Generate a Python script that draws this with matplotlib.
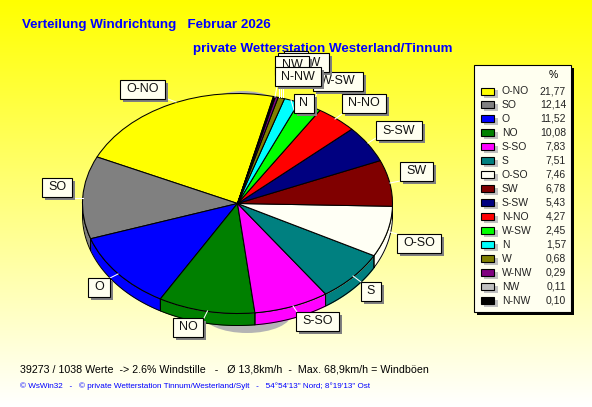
import numpy as np
import matplotlib
matplotlib.use("Agg")
import matplotlib.pyplot as plt
from matplotlib.patches import Rectangle, Ellipse

categories = ["O-NO","SO","O","NO","S-SO","S","O-SO","SW","S-SW","N-NO","W-SW","N","W","W-NW","NW","N-NW"]
values = [21.77,12.14,11.52,10.08,7.83,7.51,7.46,6.78,5.43,4.27,2.45,1.57,0.68,0.29,0.11,0.10]
value_labels = ["21,77","12,14","11,52","10,08","7,83","7,51","7,46","6,78","5,43","4,27","2,45","1,57","0,68","0,29","0,11","0,10"]
colors = ["#ffff00","#808080","#0000ff","#008000","#ff00ff","#008080","#fffff5","#800000","#000080","#ff0000","#00ff00","#00ffff","#808000","#800080","#c0c0c0","#000000"]

W, H = 592, 407
CX, CY, RX, RY, DEPTH = 237.5, 203.5, 155.0, 110.0, 12.0
START = 76.6
FONT = "Liberation Sans"

fig = plt.figure(figsize=(W/100, H/100), dpi=100)

# background gradient
bg = fig.add_axes([0, 0, 1, 1], zorder=0)
grad = np.linspace(0, 1, 256).reshape(-1, 1)
rgb = np.dstack([np.ones_like(grad), np.ones_like(grad), grad])
bg.imshow(rgb, aspect="auto", extent=(0, W, H, 0), interpolation="bilinear")
bg.set_xlim(0, W); bg.set_ylim(H, 0); bg.axis("off")
bg.add_patch(Ellipse((247, 313), 90, 40, fc="#b4b4b4", ec="none"))
bg.add_patch(Ellipse((243, 111), 80, 40, fc="#b4b4b4", ec="none"))

# pie in unit coordinates, stretched to an ellipse
ax = fig.add_axes([0, 0, 1, 1], zorder=1)
ax.patch.set_alpha(0)
wedges, _ = ax.pie(values, colors=colors, startangle=START, counterclock=True, radius=1,
                   wedgeprops=dict(edgecolor="black", linewidth=0.75))
ax.set_aspect("auto")
ax.set_xlim(-CX/RX, (W-CX)/RX)
ax.set_ylim(-(H-CY)/RY, CY/RY)
d = DEPTH/RY
# side wall, only on the front half
a = START
for v, c, w in zip(values, colors, wedges):
    b = a + v*360/sum(values)
    lo, hi = max(a, 180), min(b, 360)
    if hi > lo:
        t = np.radians(np.linspace(lo, hi, 60))
        x = np.cos(t); y = np.sin(t)
        ax.fill_between(x, y, y-d, color=c, zorder=0.5, lw=0)
        ax.plot(np.r_[x, x[::-1], x[0]], np.r_[y, (y-d)[::-1], y[0]], color="black", lw=0.7, zorder=0.6)
    a = b

# overlay in pixel coordinates
ov = fig.add_axes([0, 0, 1, 1], zorder=2)
ov.patch.set_alpha(0)
ov.set_xlim(0, W); ov.set_ylim(H, 0); ov.axis("off")

ov.text(22, 25, "Verteilung Windrichtung   Februar 2026", color="#0000ff", fontsize=9.65, weight="bold", family=FONT, va="center")
ov.text(193, 49, "private Wetterstation Westerland/Tinnum", color="#0000ff", fontsize=9.65, weight="bold", family=FONT, va="center")
ov.text(20, 369, "39273 / 1038 Werte  -> 2.6% Windstille   -   Ø 13,8km/h  -  Max. 68,9km/h = Windböen", color="black", fontsize=7.7, family=FONT, va="center")
ov.text(20, 386, "© WsWin32   -   © private Wetterstation Tinnum/Westerland/Sylt   -   54°54'13\" Nord; 8°19'13\" Ost", color="#0000ff", fontsize=5.9, family=FONT, va="center")

# slice labels: box centre, half width, leader from pie edge to box edge
HH = 9.5
boxes = {
 "O-NO": (142.5, 89.5, 22.5, (176, 102), (165, 98)),
 "SO": (57, 187.5, 15, (83, 198), (72, 198)),
 "O": (99, 287.5, 11, (118, 274), (110, 278)),
 "NO": (188, 327.5, 15, (207.5, 311), (203, 320)),
 "S-SO": (317.5, 321.5, 21.5, (293, 306), (297, 312)),
 "S": (370.5, 291.5, 10, (353, 276), (361, 282)),
 "O-SO": (419, 243, 22, (390, 232), (397, 234)),
 "SW": (416.5, 171, 16.5, (390, 183), (400, 181)),
 "S-SW": (399, 130.5, 23, (368, 143), (376, 138)),
 "N-NO": (364, 103.5, 22, (335, 119), (342, 114)),
 "W-SW": (338, 81.5, 25, (312, 104), (318, 91)),
 "N": (304, 103.5, 10, (291, 100), (294, 110)),
 "W": (296, 60, 12, (283, 97), (283, 70)),
 "W-NW": (303.5, 62.5, 25.5, (281, 97), (281, 72)),
 "NW": (292, 65.5, 17, (279, 97), (279, 75)),
 "N-NW": (298, 76.5, 23, (275, 97), (277, 86)),
}
order = ["O-NO","SO","O","NO","S-SO","S","O-SO","SW","S-SW","N-NO","W-SW","N","W","W-NW","NW","N-NW"]
for i, name in enumerate(order):
    cx, cy, hw, p0, p1 = boxes[name]
    z = 3 + i*0.1
    ov.plot([p0[0], p1[0]], [p0[1], p1[1]], color="white", lw=0.75, zorder=z)
    ov.add_patch(Rectangle((cx-hw+3, cy-HH+3), 2*hw, 2*HH, fc="#808080", ec="none", zorder=z))
    ov.add_patch(Rectangle((cx-hw, cy-HH), 2*hw, 2*HH, fc="#fffff0", ec="black", lw=0.8, zorder=z+0.01))
    ov.text(cx, cy, name, ha="center", va="center", fontsize=9, family=FONT, color="#111111", zorder=z+0.02)

# legend
ov.add_patch(Rectangle((477, 68), 97, 247, fc="black", ec="none", zorder=5))
ov.add_patch(Rectangle((474, 65), 97, 247, fc="#fffff0", ec="black", lw=0.8, zorder=5.1))
ov.text(553, 75, "%", fontsize=7.5, family=FONT, ha="center", va="center", zorder=6)
for i, (name, lab, c) in enumerate(zip(categories, value_labels, colors)):
    y = 91 + i*13.98
    ov.add_patch(Rectangle((484, y-1), 14, 7.5, fc="#c0c0c0", ec="none", zorder=5.5))
    ov.add_patch(Rectangle((481, y-3.5), 13, 7, fc=c, ec="black", lw=0.8, zorder=5.6))
    ov.text(502, y, name, fontsize=7.5, family=FONT, va="center", color="#222222", zorder=6)
    ov.text(566, y, lab, fontsize=7.5, family=FONT, va="center", ha="right", color="#222222", zorder=6)

fig.savefig("out.png", dpi=100)
